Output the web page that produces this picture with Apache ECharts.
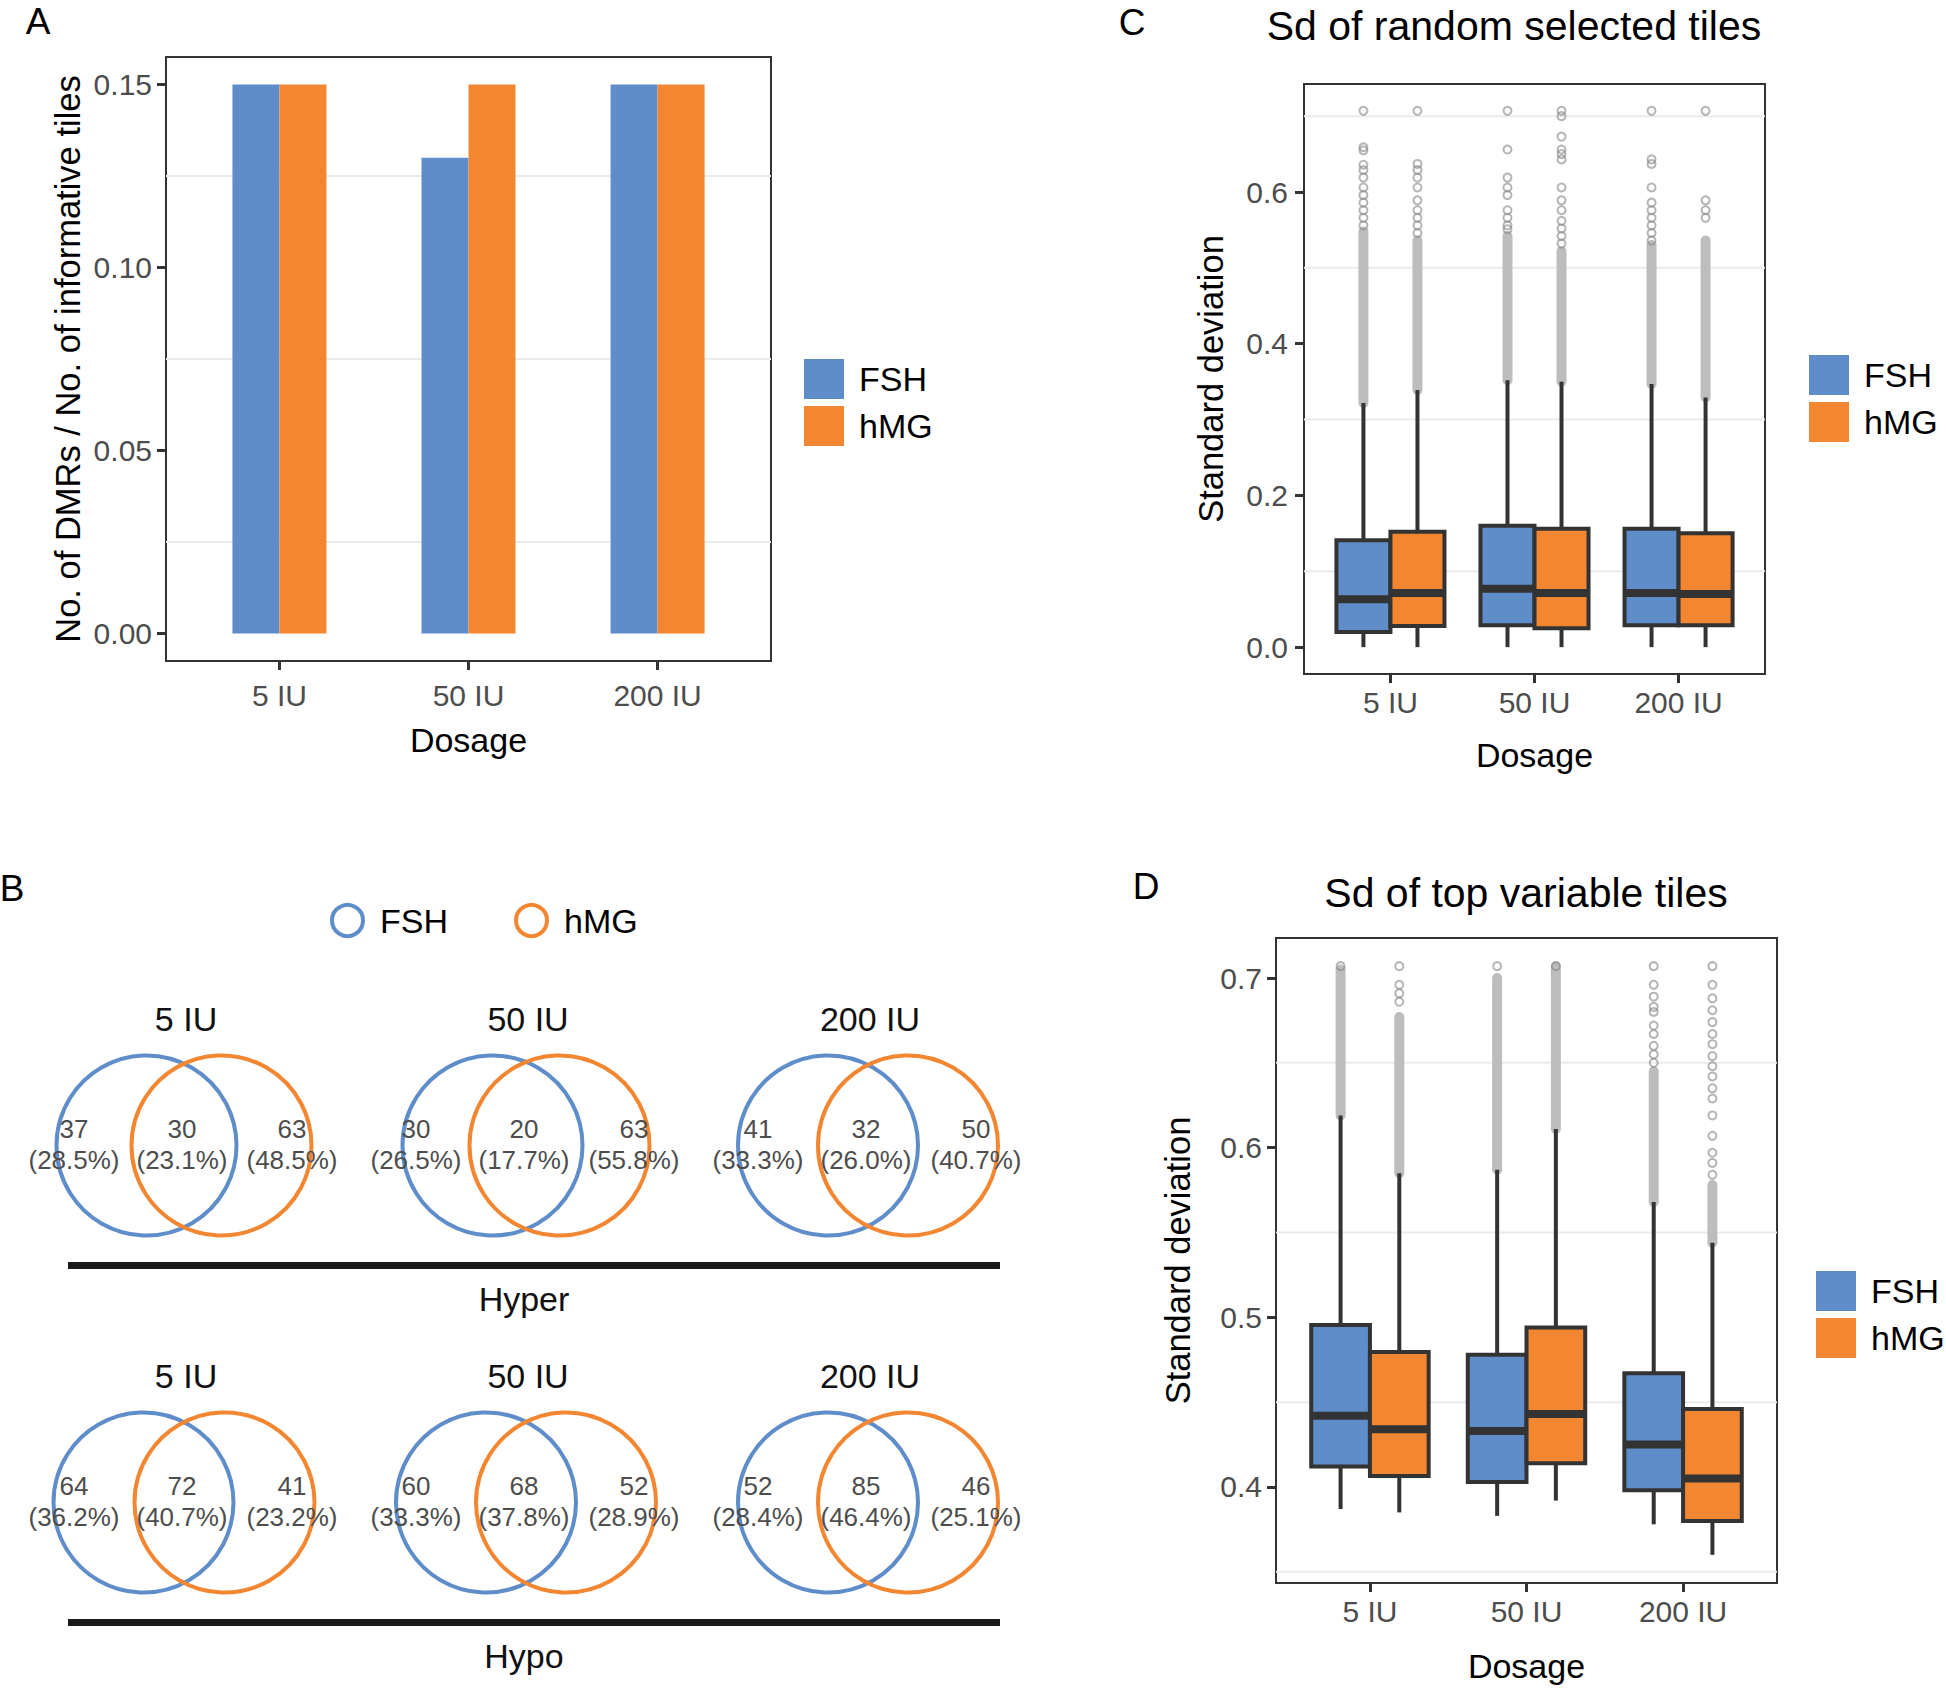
<!DOCTYPE html>
<html><head><meta charset="utf-8">
<script src="https://cdn.jsdelivr.net/npm/echarts@6/dist/echarts.min.js"></script>
<style>html,body{margin:0;padding:0;background:#fff}#c{width:1946px;height:1688px}</style>
</head><body><div id="c"></div>
<script>
// ---------------- DATA ----------------
const dosages = ['5 IU', '50 IU', '200 IU'];
const groups = ['FSH', 'hMG'];

// Panel A: ratio of DMRs to informative tiles
const ratioFSH = [0.15, 0.13, 0.15];
const ratioHMG = [0.15, 0.15, 0.15];
const ticksA = [0, 0.05, 0.10, 0.15];
const gridLinesA = [0.025, 0.075, 0.125];

// Panel B: Venn counts  [FSH only, shared, hMG only]
const vennRows = ['Hyper', 'Hypo'];
const hyperFSHonly = [37, 30, 41];
const hyperShared  = [30, 20, 32];
const hyperHMGonly = [63, 63, 50];
const hypoFSHonly  = [64, 60, 52];
const hypoShared   = [72, 68, 85];
const hypoHMGonly  = [41, 52, 46];

// Panel C: boxes [lower whisker, Q1, median, Q3, upper whisker]
const boxC_FSH = [[0, 0.020, 0.063, 0.141, 0.322], [0, 0.029, 0.077, 0.160, 0.352], [0, 0.029, 0.0715, 0.156, 0.347]];
const boxC_HMG = [[0, 0.028, 0.0715, 0.152, 0.339], [0, 0.025, 0.0715, 0.156, 0.350], [0, 0.029, 0.070, 0.150, 0.329]];
const denseC_FSH = [[0.322, 0.548], [0.352, 0.542], [0.347, 0.530]];
const denseC_HMG = [[0.339, 0.536], [0.350, 0.522], [0.329, 0.536]];
const outC_FSH = [
  [0.556, 0.566, 0.576, 0.586, 0.596, 0.606, 0.619, 0.629, 0.636, 0.655, 0.659, 0.707],
  [0.551, 0.556, 0.566, 0.576, 0.596, 0.606, 0.619, 0.656, 0.707],
  [0.536, 0.546, 0.556, 0.566, 0.576, 0.586, 0.606, 0.637, 0.643, 0.707]];
const outC_HMG = [
  [0.546, 0.556, 0.566, 0.576, 0.589, 0.606, 0.619, 0.629, 0.637, 0.707],
  [0.532, 0.542, 0.552, 0.562, 0.576, 0.589, 0.606, 0.643, 0.650, 0.656, 0.673, 0.700, 0.707],
  [0.566, 0.576, 0.589, 0.707]];
const ticksC = [0, 0.2, 0.4, 0.6];
const gridLinesC = [0.1, 0.3, 0.5, 0.7];

// Panel D
const boxD_FSH = [[0.387, 0.412, 0.442, 0.4955, 0.619], [0.383, 0.403, 0.433, 0.478, 0.587], [0.378, 0.398, 0.425, 0.467, 0.568]];
const boxD_HMG = [[0.385, 0.4065, 0.434, 0.4796, 0.585], [0.392, 0.414, 0.443, 0.494, 0.611], [0.360, 0.380, 0.405, 0.446, 0.544]];
const denseD_FSH = [[0.619, 0.705], [0.587, 0.700], [0.568, 0.645]];
const denseD_HMG = [[0.585, 0.677], [0.611, 0.707], [0.544, 0.578]];
const outD_FSH = [
  [0.707],
  [0.707],
  [0.650, 0.655, 0.660, 0.667, 0.672, 0.680, 0.683, 0.689, 0.696, 0.707]];
const outD_HMG = [
  [0.686, 0.691, 0.696, 0.707],
  [0.707],
  [0.584, 0.591, 0.597, 0.607, 0.619, 0.629, 0.635, 0.642, 0.648, 0.654, 0.661, 0.667, 0.674, 0.681, 0.688, 0.696, 0.707]];
const ticksD = [0.4, 0.5, 0.6, 0.7];
const gridLinesD = [0.35, 0.45, 0.55, 0.65];

// ---------------- STYLE ----------------
const BLUE = '#5F8DCA', ORANGE = '#F38631', DARK = '#333333', GRIDC = '#EBEBEB', TICKC = '#4D4D4D';
const FONT = '"Liberation Sans", Arial, Helvetica, sans-serif';
const DODGE = 0.1875, BOXW = 0.375, BARW = 47;
const VENN_R = 90;
const vennHalfGap = [[37.5, 33.5, 40], [40.5, 40, 40]];

function valueX(gi, margin, gap) {
  return {
    type: 'value', gridIndex: gi, min: -0.6, max: 2.6,
    splitLine: { show: false }, axisLine: { show: false, onZero: false },
    axisTick: { show: true, customValues: [0, 1, 2], length: 9, lineStyle: { color: DARK, width: 3 } },
    axisLabel: { customValues: [0, 1, 2], formatter: v => dosages[Math.round(v)], color: TICKC, fontSize: 30, fontFamily: FONT, margin: margin },
    name: 'Dosage', nameLocation: 'middle', nameGap: gap,
    nameTextStyle: { fontSize: 34, color: '#000', fontFamily: FONT }
  };
}
function valueY(gi, min, max, ticks, digits, name, gap, margin) {
  return {
    type: 'value', gridIndex: gi, min: min, max: max,
    splitLine: { show: false }, axisLine: { show: false, onZero: false },
    axisTick: { show: true, customValues: ticks, length: 9, lineStyle: { color: DARK, width: 3 } },
    axisLabel: { customValues: ticks, formatter: v => v.toFixed(digits), color: TICKC, fontSize: 30, fontFamily: FONT, margin: margin },
    name: name, nameLocation: 'middle', nameGap: gap, nameRotate: 90,
    nameTextStyle: { fontSize: 34.5, color: '#000', fontFamily: FONT }
  };
}
function gridLineSeries(gi, vals) {
  return {
    type: 'custom', xAxisIndex: gi, yAxisIndex: gi, silent: true, z: 1,
    data: vals.map(v => [0, v]), encode: { x: 0, y: 1 },
    renderItem: (params, api) => {
      const y = api.coord([0, api.value(1)])[1];
      const cs = params.coordSys;
      return { type: 'line', shape: { x1: cs.x, y1: y, x2: cs.x + cs.width, y2: y }, style: { stroke: GRIDC, lineWidth: 2 } };
    }
  };
}
function boxSeries(gi, name, boxes, off, color) {
  return {
    type: 'custom', name: name, xAxisIndex: gi, yAxisIndex: gi, z: 4, silent: true,
    itemStyle: { color: color },
    data: boxes.map((b, i) => [i].concat(b)), encode: { x: 0, y: [1, 2, 3, 4, 5] },
    renderItem: (params, api) => {
      const cx = api.value(0) + off;
      const lw = api.value(1), q1 = api.value(2), md = api.value(3), q3 = api.value(4), uw = api.value(5);
      const tl = api.coord([cx - BOXW / 2, q3]), br = api.coord([cx + BOXW / 2, q1]);
      const ml = api.coord([cx - BOXW / 2, md]), mr = api.coord([cx + BOXW / 2, md]);
      const top = api.coord([cx, uw]), bot = api.coord([cx, lw]);
      const pq3 = api.coord([cx, q3]), pq1 = api.coord([cx, q1]);
      return { type: 'group', children: [
        { type: 'line', shape: { x1: top[0], y1: top[1], x2: pq3[0], y2: pq3[1] }, style: { stroke: DARK, lineWidth: 4 } },
        { type: 'line', shape: { x1: pq1[0], y1: pq1[1], x2: bot[0], y2: bot[1] }, style: { stroke: DARK, lineWidth: 4 } },
        { type: 'rect', shape: { x: tl[0], y: tl[1], width: br[0] - tl[0], height: br[1] - tl[1] }, style: { fill: color, stroke: DARK, lineWidth: 4 } },
        { type: 'line', shape: { x1: ml[0], y1: ml[1], x2: mr[0], y2: mr[1] }, style: { stroke: DARK, lineWidth: 8 } }
      ] };
    }
  };
}
function denseSeries(gi, ranges, off) {
  return {
    type: 'custom', xAxisIndex: gi, yAxisIndex: gi, z: 2, silent: true,
    data: ranges.map((r, i) => [i, r[0], r[1]]), encode: { x: 0, y: [1, 2] },
    renderItem: (params, api) => {
      const cx = api.value(0) + off;
      const lo = api.coord([cx, api.value(1)]), hi = api.coord([cx, api.value(2)]);
      return { type: 'rect', shape: { x: lo[0] - 5, y: hi[1] - 5, width: 10, height: lo[1] - hi[1] + 10, r: 5 },
        style: { fill: '#BDBDBD' } };
    }
  };
}
function outlierSeries(gi, lists, off) {
  const pts = [];
  lists.forEach((l, i) => l.forEach(v => pts.push([i + off, v])));
  return {
    type: 'scatter', xAxisIndex: gi, yAxisIndex: gi, z: 3, silent: true, data: pts,
    symbol: 'circle', symbolSize: 8,
    itemStyle: { color: 'rgba(0,0,0,0)', borderColor: 'rgba(140,140,140,0.8)', borderWidth: 2 }
  };
}
function legendFor(left, top) {
  return {
    orient: 'vertical', left: left, top: top, padding: 0, itemWidth: 40, itemHeight: 40, itemGap: 7,
    selectedMode: false, icon: 'rect',
    data: groups.map(g => ({ name: g, icon: 'rect' })),
    textStyle: { fontSize: 34, color: '#000', fontFamily: FONT, padding: [0, 0, 0, 10] }
  };
}
function txt(x, y, s, size, color) {
  return { type: 'text', x: x, y: y, silent: true,
    style: { text: s, font: size + 'px ' + FONT, fill: color || '#000', textAlign: 'center', textVerticalAlign: 'middle', align: 'center', verticalAlign: 'middle' } };
}

// Venn series
const vennData = [];
dosages.forEach((d, i) => vennData.push([i, 0, hyperFSHonly[i], hyperShared[i], hyperHMGonly[i]]));
dosages.forEach((d, i) => vennData.push([i, 1, hypoFSHonly[i], hypoShared[i], hypoHMGonly[i]]));
function vennRender(params, api) {
  const col = api.value(0), row = api.value(1);
  const a = api.value(2), ab = api.value(3), b = api.value(4), tot = a + ab + b;
  const c = api.coord([col, row]);
  const h = vennHalfGap[row][col];
  const pct = v => '(' + (100 * v / tot).toFixed(1) + '%)';
  const lab = (x, n) => [txt(x, c[1] - 17, String(n), 26, TICKC), txt(x, c[1] + 14, pct(n), 26, TICKC)];
  return { type: 'group', children: [
    txt(c[0] + 2, c[1] - 127, dosages[col], 34, '#111'),
    { type: 'circle', shape: { cx: c[0] - h, cy: c[1], r: VENN_R }, style: { fill: 'none', stroke: BLUE, lineWidth: 4 } },
    { type: 'circle', shape: { cx: c[0] + h, cy: c[1], r: VENN_R }, style: { fill: 'none', stroke: ORANGE, lineWidth: 4 } }
  ].concat(lab(c[0] - 110, a), lab(c[0] - 2, ab), lab(c[0] + 108, b)) };
}
function rowRender(params, api) {
  const k = api.value(1);
  const c0 = api.coord([0, k]), c2 = api.coord([2, k]);
  const x1 = c0[0] - 116, x2 = c2[0] + 132, y = c0[1] + 120;
  return { type: 'group', children: [
    { type: 'line', shape: { x1: x1, y1: y, x2: x2, y2: y }, style: { stroke: '#1A1A1A', lineWidth: 7 } },
    txt((x1 + x2) / 2 - 10, c0[1] + 153, vennRows[k], 34, '#111')
  ] };
}

const option = {
  animation: false,
  backgroundColor: '#fff',
  textStyle: { fontFamily: FONT },
  grid: [
    { left: 166, top: 57, width: 605, height: 604, show: true, borderColor: DARK, borderWidth: 2 },
    { left: 1304, top: 84, width: 461, height: 590, show: true, borderColor: DARK, borderWidth: 2 },
    { left: 1276, top: 938, width: 501, height: 645, show: true, borderColor: DARK, borderWidth: 2 },
    { left: 13, top: 967, width: 1026, height: 714, show: false }
  ],
  xAxis: [
    valueX(0, 19, 62),
    valueX(1, 13, 64),
    valueX(2, 13, 66),
    { type: 'category', gridIndex: 3, data: dosages, show: false }
  ],
  yAxis: [
    valueY(0, -0.0075, 0.1575, ticksA, 2, 'No. of DMRs / No. of informative tiles', 81, 14),
    valueY(1, -0.0354, 0.7424, ticksC, 1, 'Standard deviation', 76, 16),
    valueY(2, 0.3434, 0.7236, ticksD, 1, 'Standard deviation', 81, 14),
    { type: 'category', gridIndex: 3, data: vennRows, inverse: true, show: false }
  ],
  legend: [
    legendFor(804, 359),
    legendFor(1809, 355),
    legendFor(1816, 1271),
    {
      orient: 'horizontal', left: 330, top: 903, padding: 0, itemWidth: 31, itemHeight: 31, itemGap: 66, selectedMode: false,
      data: [
        { name: 'FSH', icon: 'circle', itemStyle: { color: '#fff', borderColor: BLUE, borderWidth: 4 } },
        { name: 'hMG', icon: 'circle', itemStyle: { color: '#fff', borderColor: ORANGE, borderWidth: 4 } }
      ],
      textStyle: { fontSize: 34, color: '#000', fontFamily: FONT, padding: [0, 0, 0, 12] }
    }
  ],
  graphic: [
    txt(38, 21, 'A', 37), txt(1132, 22, 'C', 37), txt(12, 888, 'B', 37), txt(1146, 886, 'D', 37),
    txt(1514, 26, 'Sd of random selected tiles', 41), txt(1526, 893, 'Sd of top variable tiles', 41)
  ],
  series: [
    gridLineSeries(0, gridLinesA),
    { type: 'bar', name: 'FSH', xAxisIndex: 0, yAxisIndex: 0, z: 3, silent: true, barWidth: BARW, barGap: '0%',
      itemStyle: { color: BLUE }, data: ratioFSH.map((v, i) => [i, v]) },
    { type: 'bar', name: 'hMG', xAxisIndex: 0, yAxisIndex: 0, z: 3, silent: true, barWidth: BARW, barGap: '0%',
      itemStyle: { color: ORANGE }, data: ratioHMG.map((v, i) => [i, v]) },

    gridLineSeries(1, gridLinesC),
    denseSeries(1, denseC_FSH, -DODGE), denseSeries(1, denseC_HMG, DODGE),
    outlierSeries(1, outC_FSH, -DODGE), outlierSeries(1, outC_HMG, DODGE),
    boxSeries(1, 'FSH', boxC_FSH, -DODGE, BLUE), boxSeries(1, 'hMG', boxC_HMG, DODGE, ORANGE),

    gridLineSeries(2, gridLinesD),
    denseSeries(2, denseD_FSH, -DODGE), denseSeries(2, denseD_HMG, DODGE),
    outlierSeries(2, outD_FSH, -DODGE), outlierSeries(2, outD_HMG, DODGE),
    boxSeries(2, 'FSH', boxD_FSH, -DODGE, BLUE), boxSeries(2, 'hMG', boxD_HMG, DODGE, ORANGE),

    { type: 'custom', xAxisIndex: 3, yAxisIndex: 3, silent: true, z: 3, data: vennData, encode: { x: 0, y: 1 }, renderItem: vennRender },
    { type: 'custom', xAxisIndex: 3, yAxisIndex: 3, silent: true, z: 3, data: vennRows.map((r, k) => [0, k]), encode: { x: 0, y: 1 }, renderItem: rowRender }
  ]
};
const chart = echarts.init(document.getElementById('c'), null, { renderer: 'svg', width: 1946, height: 1688 });
chart.setOption(option);
</script></body></html>
